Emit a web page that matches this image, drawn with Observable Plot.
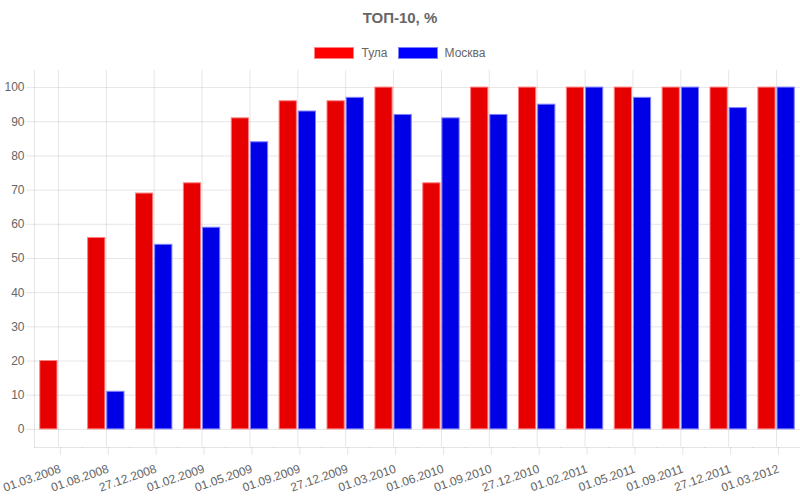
<!DOCTYPE html>
<html>
<head>
<meta charset="utf-8">
<script src="https://cdn.jsdelivr.net/npm/d3@7"></script>
<script src="https://cdn.jsdelivr.net/npm/@observablehq/plot@0.6"></script>
<style>
  body { margin: 0; background: #fff; font-family: "Liberation Sans", Arial, Helvetica, sans-serif; }
  #header { position: relative; width: 800px; height: 62px; }
  #title { position: absolute; top: 10px; left: 0; width: 800px; text-align: center; font-size: 15px; line-height: 15px; font-weight: bold; color: #666; }
  #legend { position: absolute; top: 47px; left: 0; width: 800px; display: flex; justify-content: center; align-items: center; font-size: 12px; color: #666; line-height: 12px; }
  .sw { width: 38px; height: 10px; border: 1px solid; margin-right: 7px; }
  .item { display: flex; align-items: center; margin: 0 5px; }
</style>
</head>
<body>
<div id="header">
  <div id="title">ТОП-10, %</div>
  <div id="legend"></div>
</div>
<div id="chart"></div>
<script>
const dates = ["01.03.2008","01.08.2008","27.12.2008","01.02.2009","01.05.2009","01.09.2009","27.12.2009","01.03.2010","01.06.2010","01.09.2010","27.12.2010","01.02.2011","01.05.2011","01.09.2011","27.12.2011","01.03.2012"];
const series = ["Тула", "Москва"];
const tula   = [20, 56, 69, 72, 91, 96, 96, 100, 72, 100, 100, 100, 100, 100, 100, 100];
const moscow = [null, 11, 54, 59, 84, 93, 97, 92, 91, 92, 95, 100, 97, 100, 94, 100];
const yTicks = [0, 10, 20, 30, 40, 50, 60, 70, 80, 90, 100];
const fills = ["#e60000", "#0000e6"];
const strokes = ["#ff8080", "#8080ff"];
const legendFills = ["#ff0000", "#0000ff"];

const legend = document.getElementById("legend");
series.forEach((s, i) => {
  const it = document.createElement("div");
  it.className = "item";
  it.innerHTML = `<div class="sw" style="background:${legendFills[i]};border-color:${strokes[i]}"></div><span>${s}</span>`;
  legend.appendChild(it);
});

const rows = [tula, moscow].map((vals, k) =>
  dates.map((d, i) => ({date: d, s: series[k], v: vals[i]})).filter(r => r.v != null));

const grid = {stroke: "#000", strokeOpacity: 0.1};

const chart = Plot.plot({
  width: 800,
  height: 438,
  marginTop: 8,
  marginBottom: 53,
  marginLeft: 34,
  marginRight: 0,
  style: {fontFamily: "Liberation Sans, Arial, Helvetica, sans-serif", fontSize: "12px", color: "#666", background: "#fff", overflow: "visible"},
  fx: {domain: dates, padding: 0, round: false, label: null},
  x: {domain: series, paddingInner: 0.1, paddingOuter: 0.3, round: false, axis: null},
  y: {domain: [-5.3, 105], label: null},
  marks: [
    Plot.gridY(yTicks, grid),
    Plot.gridFx({...grid}),
    Plot.frame({anchor: "left", facetAnchor: "left", ...grid}),
    Plot.frame({anchor: "bottom", ...grid}),
    Plot.axisY(yTicks, {tickSize: 8, tickPadding: 2, ...grid, fill: "#666", label: null}),
    Plot.axisFx({anchor: "bottom", tickRotate: -19, tickSize: 8, tickPadding: 13, dx: 2, ...grid, fill: "#666", label: null}),
    ...rows.map((r, k) => Plot.barY(r, {fx: "date", x: "s", y: "v", fill: fills[k], stroke: strokes[k], strokeWidth: 1}))
  ]
});
document.getElementById("chart").appendChild(chart);
</script>
</body>
</html>
